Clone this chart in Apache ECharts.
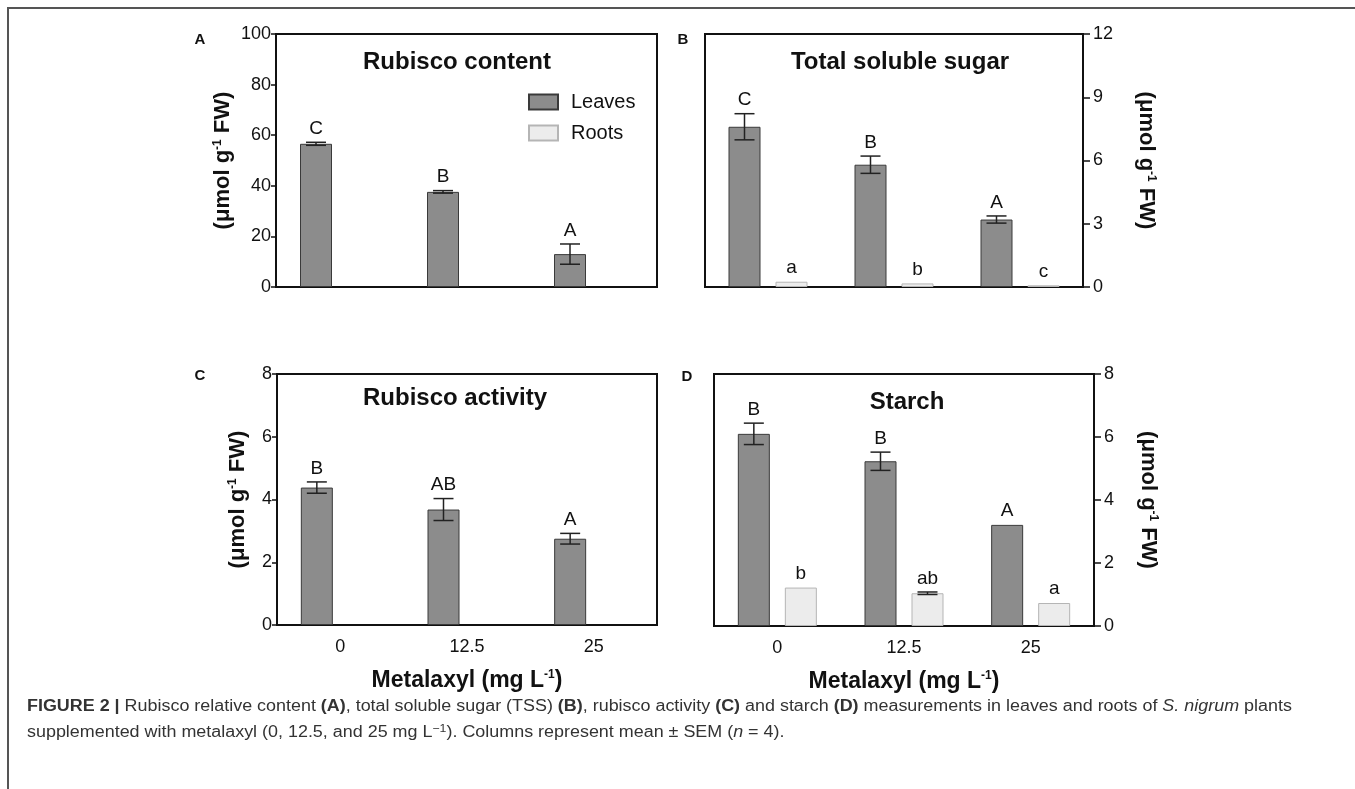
<!DOCTYPE html>
<html><head><meta charset="utf-8">
<script src="https://cdn.jsdelivr.net/npm/echarts@6/dist/echarts.min.js"></script>
<style>html,body{margin:0;padding:0;background:#fff}#c{width:1355px;height:789px}</style>
</head><body><div id="c"></div><script>
// ---------- data ----------
const categories = ['0', '12.5', '25'];

const rubiscoContentLeaves = [56.6, 37.6, 13.0];
const rubiscoContentLeavesErr = [0.6, 0.5, 4.0];
const rubiscoContentLeavesLetters = ['C', 'B', 'A'];

const tssLeaves = [7.6, 5.8, 3.2];
const tssLeavesErr = [0.62, 0.41, 0.17];
const tssLeavesLetters = ['C', 'B', 'A'];
const tssRoots = [0.25, 0.17, 0.08];
const tssRootsErr = [0.02, 0.01, 0.01];
const tssRootsLetters = ['a', 'b', 'c'];

const activityLeaves = [4.38, 3.68, 2.75];
const activityLeavesErr = [0.18, 0.35, 0.17];
const activityLeavesLetters = ['B', 'AB', 'A'];

const starchLeaves = [6.1, 5.23, 3.21];
const starchLeavesErr = [0.34, 0.29, 0.02];
const starchLeavesLetters = ['B', 'B', 'A'];
const starchRoots = [1.22, 1.04, 0.73];
const starchRootsErr = [0.02, 0.04, 0.01];
const starchRootsLetters = ['b', 'ab', 'a'];

const yTicksA = {min: 0, max: 100, interval: 20};
const yTicksB = {min: 0, max: 12, interval: 3};
const yTicksC = {min: 0, max: 8, interval: 2};
const yTicksD = {min: 0, max: 8, interval: 2};

// ---------- styles ----------
const FONT = 'Liberation Sans, Arial, Helvetica, sans-serif';
const LEAF = {color: '#8c8c8c', borderColor: '#3a3a3a', borderWidth: 1};
const ROOT = {color: '#ececec', borderColor: '#b5b5b5', borderWidth: 1};
const BAR_W = 32, BAR_GAP = 15, OFF = (BAR_W + BAR_GAP) / 2;

const grids = [
  {left: 276, top: 34, width: 381, height: 253},
  {left: 705, top: 34, width: 378, height: 253},
  {left: 277, top: 374, width: 380, height: 251},
  {left: 714, top: 374, width: 380, height: 252}
].map(g => Object.assign(g, {show: true, borderColor: '#111', borderWidth: 2, backgroundColor: 'transparent'}));

const unitName = '(\u03bcmol g{sup|-1} FW)';
const xName = 'Metalaxyl (mg L{sup|-1})';
const supRich = {sup: {fontSize: 12, fontWeight: 'bold', fontFamily: FONT, verticalAlign: 'top', color: '#111'}};

function xAxis(gi, showLabels) {
  return {
    type: 'category', gridIndex: gi, data: categories,
    axisLine: {show: true, lineStyle: {color: '#111', width: 2}},
    axisTick: {show: false},
    axisLabel: {show: showLabels, fontSize: 18, fontFamily: FONT, color: '#111', margin: 13},
    name: showLabels ? xName : '', nameLocation: 'middle', nameGap: 44,
    nameTextStyle: {fontSize: 23, fontWeight: 'bold', fontFamily: FONT, color: '#111', rich: supRich}
  };
}
function yAxis(gi, ticks, right, gap) {
  return Object.assign({
    type: 'value', gridIndex: gi, position: right ? 'right' : 'left',
    axisLine: {show: true, lineStyle: {color: '#111', width: 2}},
    axisTick: {show: true, length: right ? 7 : 5, lineStyle: {color: '#111', width: 1.5}},
    axisLabel: {fontSize: 18, fontFamily: FONT, color: '#111', margin: right ? 10 : 5},
    splitLine: {show: false},
    name: unitName, nameLocation: 'middle', nameGap: gap, nameRotate: right ? -90 : 90,
    nameTextStyle: {fontSize: 22, fontWeight: 'bold', fontFamily: FONT, color: '#111', rich: supRich}
  }, ticks);
}

function bar(name, gi, data, style) {
  return {
    type: 'bar', name: name, xAxisIndex: gi, yAxisIndex: gi, data: data,
    barWidth: BAR_W, barGap: (BAR_GAP / BAR_W * 100) + '%',
    itemStyle: style, emphasis: {disabled: true}, z: 2
  };
}
function err(name, gi, data, errs, letters, offset) {
  return {
    type: 'custom', name: name, xAxisIndex: gi, yAxisIndex: gi, z: 5, silent: true,
    data: data.map((v, i) => [i, v, errs[i]]),
    renderItem: function (params, api) {
      const i = params.dataIndex;
      const m = api.value(1), e = api.value(2);
      const hi = api.coord([api.value(0), m + e]);
      const lo = api.coord([api.value(0), m - e]);
      const x = hi[0] + offset;
      const st = {stroke: '#222', lineWidth: 1.5};
      const half = 10;
      const ch = [];
      if (hi[1] - lo[1] < -1.5) {
        ch.push({type: 'line', shape: {x1: x, y1: hi[1], x2: x, y2: lo[1]}, style: st});
        ch.push({type: 'line', shape: {x1: x - half, y1: hi[1], x2: x + half, y2: hi[1]}, style: st});
        ch.push({type: 'line', shape: {x1: x - half, y1: lo[1], x2: x + half, y2: lo[1]}, style: st});
      }
      ch.push({type: 'text', style: {text: letters[i], x: x, y: hi[1] - 4, align: 'center', verticalAlign: 'bottom',
        fontSize: 19, fontFamily: FONT, fill: '#111'}});
      return {type: 'group', children: ch};
    }
  };
}
const empty = ['-', '-', '-'];

const series = [
  bar('Leaves', 0, rubiscoContentLeaves, LEAF), bar('Roots', 0, empty, ROOT),
  err('Leaves', 0, rubiscoContentLeaves, rubiscoContentLeavesErr, rubiscoContentLeavesLetters, -OFF),
  bar('Leaves', 1, tssLeaves, LEAF), bar('Roots', 1, tssRoots, ROOT),
  err('Leaves', 1, tssLeaves, tssLeavesErr, tssLeavesLetters, -OFF),
  err('Roots', 1, tssRoots, tssRootsErr, tssRootsLetters, OFF),
  bar('Leaves', 2, activityLeaves, LEAF), bar('Roots', 2, empty, ROOT),
  err('Leaves', 2, activityLeaves, activityLeavesErr, activityLeavesLetters, -OFF),
  bar('Leaves', 3, starchLeaves, LEAF), bar('Roots', 3, starchRoots, ROOT),
  err('Leaves', 3, starchLeaves, starchLeavesErr, starchLeavesLetters, -OFF),
  err('Roots', 3, starchRoots, starchRootsErr, starchRootsLetters, OFF)
];

function txt(text, x, y, size, weight) {
  return {type: 'text', x: x, y: y, style: {text: text, align: 'center', verticalAlign: 'middle',
    fontSize: size, fontWeight: weight || 'normal', fontFamily: FONT, fill: '#111'}, silent: true};
}

const captionRich = {
  b: {fontWeight: 'bold', fontSize: 16, fontFamily: FONT, fill: '#333', lineHeight: 20},
  i: {fontStyle: 'italic', fontSize: 16, fontFamily: FONT, fill: '#333', lineHeight: 20},
  n: {fontSize: 16, fontFamily: FONT, fill: '#333', lineHeight: 20},
  sup: {fontSize: 11, fontFamily: FONT, fill: '#333', verticalAlign: 'top', lineHeight: 12}
};
const caption1 = '{b|FIGURE 2 |}{n| Rubisco relative content }{b|(A)}{n|, total soluble sugar (TSS) }{b|(B)}{n|, rubisco activity }{b|(C)}{n| and starch }{b|(D)}{n| measurements in leaves and roots of }{i|S. nigrum}{n| plants}';
const caption2 = '{n|supplemented with metalaxyl (0, 12.5, and 25 mg L}{sup|\u22121}{n|). Columns represent mean \u00b1 SEM (}{i|n}{n| = 4).}';

const chart = echarts.init(document.getElementById('c'), null, {renderer: 'canvas'});
chart.setOption({
  animation: false,
  backgroundColor: '#fff',
  grid: grids,
  xAxis: [xAxis(0, false), xAxis(1, false), xAxis(2, true), xAxis(3, true)],
  yAxis: [yAxis(0, yTicksA, false, 42), yAxis(1, yTicksB, true, 52), yAxis(2, yTicksC, false, 28), yAxis(3, yTicksD, true, 43)],
  legend: {
    left: 528, top: 92, padding: 0, orient: 'vertical', icon: 'rect', itemWidth: 29, itemHeight: 15, itemGap: 11,
    data: ['Leaves', 'Roots'], selectedMode: false,
    textStyle: {fontSize: 20, fontFamily: FONT, color: '#111', padding: [0, 0, 0, 8]}
  },
  tooltip: {show: false},
  series: series,
  graphic: [
    {type: 'rect', shape: {x: 8, y: 8, width: 1400, height: 900}, style: {fill: 'none', stroke: '#555', lineWidth: 2}, silent: true},
    txt('A', 200, 40, 15, 'bold'), txt('B', 683, 40, 15, 'bold'),
    txt('C', 200, 376, 15, 'bold'), txt('D', 687, 377, 15, 'bold'),
    txt('Rubisco content', 457, 62, 24, 'bold'),
    txt('Total soluble sugar', 900, 62, 24, 'bold'),
    txt('Rubisco activity', 455, 398, 24, 'bold'),
    txt('Starch', 907, 402, 24, 'bold'),
    {type: 'text', x: 27, y: 707, scaleX: 1.12, silent: true, style: {text: caption1, rich: captionRich, verticalAlign: 'middle',
      fontSize: 16, fontFamily: FONT, fill: '#333'}},
    {type: 'text', x: 27, y: 733, scaleX: 1.12, silent: true, style: {text: caption2, rich: captionRich, verticalAlign: 'middle',
      fontSize: 16, fontFamily: FONT, fill: '#333'}}
  ]
});
</script></body></html>
